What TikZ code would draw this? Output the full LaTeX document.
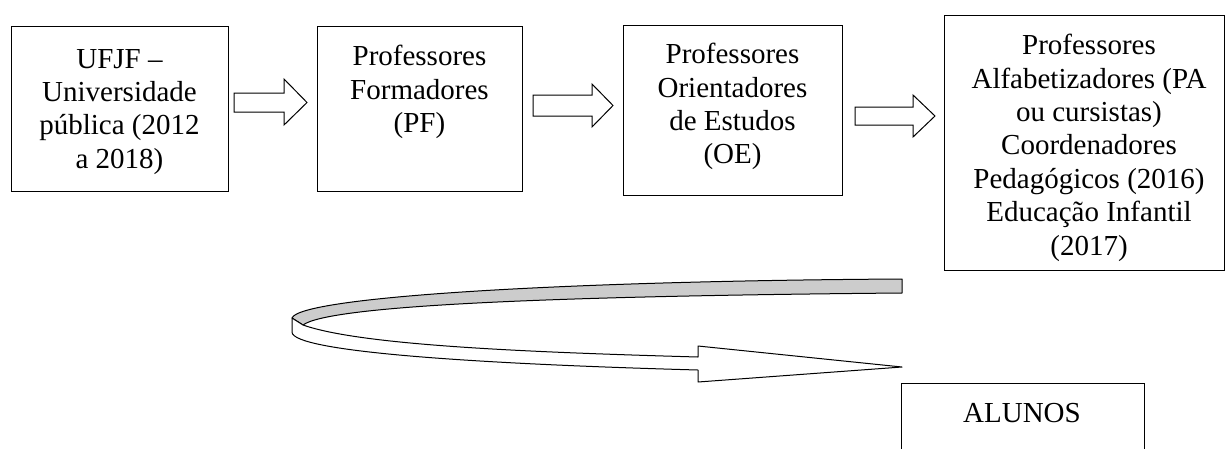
\documentclass[tikz,border=0pt]{standalone}
\usepackage{fontspec}
\setmainfont{Liberation Serif}
\begin{document}
\begin{tikzpicture}[x=1pt,y=-1pt,
  box/.style={draw,line width=1.2pt,inner sep=0pt,anchor=north west},
  txt/.style={anchor=north,inner sep=0pt,align=center,
    font=\fontsize{29}{33.4}\selectfont},
  blockarrow/.style={draw,line width=1pt,fill=white,line join=miter},
  ribbon/.style={draw,line width=1pt,line join=round}]
\useasboundingbox (0,0) rectangle (1227,448);

% boxes of the chain
\node[box,minimum width=217pt,minimum height=165pt] (ufjf) at (11,26) {};
\node[box,minimum width=205pt,minimum height=165pt] (pf) at (317,26) {};
\node[box,minimum width=219pt,minimum height=170pt] (oe) at (623,25) {};
\node[box,minimum width=280pt,minimum height=255pt] (pa) at (944,15) {};
\node[box,minimum width=243pt,minimum height=110pt] (alunos) at (901,383) {};

% box texts
\node[txt] (ufjfT) at (119.5,49) {UFJF --\\Universidade\\pública (2012\\a 2018)};
\node[txt] (pfT) at (419.5,45) {Professores\\Formadores\\(PF)};
\node[txt] (oeT) at (732.5,43) {Professores\\Orientadores\\de Estudos\\(OE)};
\node[txt] (paT) at (1089,34) {Professores\\Alfabetizadores (PA\\ou cursistas)\\Coordenadores\\Pedagógicos (2016)\\Educação Infantil\\(2017)};
\node[txt] (alunosT) at (1022,403) {ALUNOS};

% block arrows between the boxes
\draw[blockarrow] (234,93) -- (284,93) -- (284,79) -- (307,102.5) -- (284,125)
  -- (284,112) -- (234,112) -- cycle;
\draw[blockarrow] (533,95) -- (592,95) -- (592,84) -- (613,105.5) -- (592,127)
  -- (592,116) -- (533,116) -- cycle;
\draw[blockarrow] (855,107) -- (913,107) -- (913,95) -- (935,116) -- (913,137)
  -- (913,125) -- (855,125) -- cycle;

% curved return arrow: grey back face
\draw[ribbon,fill=gray!40] (902,279) .. controls (560,281) and (300,297) .. (292,318)
  -- (303,325) .. controls (330,305) and (560,296) .. (902,293) -- cycle;
% curved return arrow: white front face with head
\draw[ribbon,fill=white] (292,318) -- (292,332)
  .. controls (292,352) and (480,364) .. (698,370)
  -- (698,382) -- (902,367) -- (698,346) -- (698,357)
  .. controls (520,352) and (360,345) .. (303,325) -- cycle;
\end{tikzpicture}
\end{document}
